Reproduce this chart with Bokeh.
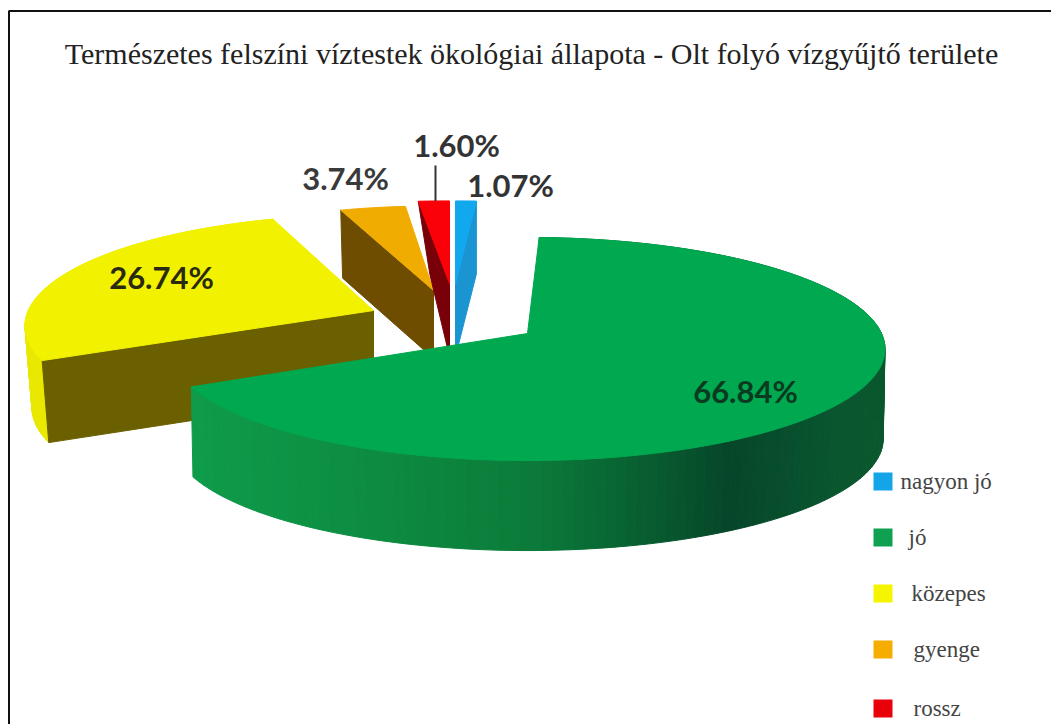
import math
from bokeh.plotting import figure
from bokeh.models import Range1d
from bokeh.core.properties import value
from bokeh.embed import file_html
from bokeh.resources import INLINE

# ---- data ----
categories = ["nagyon jó", "jó", "közepes", "gyenge", "rossz"]
shares = [1.07, 66.84, 26.74, 3.74, 1.60]
share_labels = ["1.07%", "66.84%", "26.74%", "3.74%", "1.60%"]
title = "Természetes felszíni víztestek ökológiai állapota - Olt folyó vízgyűjtő területe"

# ---- colours ----
top_colors = ["#12a8ee", "#00a84f", "#f2f200", "#f0ac00", "#fa0008"]
cut_colors = ["#1b95d2", "#0f9c4b", "#6b6000", "#6e4c00", "#780008"]
wall_colors = ["#1b95d2", None, "#e8e800", "#6e4c00", "#780008"]
legend_colors = ["#14a5e8", "#0fa050", "#f5f500", "#f5ad00", "#e8000a"]
label_colors = ["#333333", "#0a3a20", "#2a2a10", "#3a3a3a", "#333333"]
green_wall_stops = [(190, (15, 156, 75)), (400, (13, 138, 64)), (540, (12, 122, 58)),
                    (730, (6, 71, 42)), (830, (10, 86, 48)), (890, (10, 88, 46))]

# ---- layout (pixel space of the page) ----
RX, RY, K = 354.0, 109.4, 0.139
apex_x = [455, 527, 373, 433, 449]
apex_y = [283, 333, 310, 290, 283]
x_scale = [1.0, 1.0, 0.975, 0.9, 1.0]
y_scale = [0.86, 1.0, 1.0, 0.88, 0.86]
rotation = [0.0, -1.7, 0.0, 0.0, 0.0]
depth = [73, 90, 82, 68, 73]
shrink = [1.0, 0.995, 0.98, 0.98, 0.63]
label_x = [510, 745, 161, 345, 456]
label_y = [184, 390, 276, 177, 144]
legend_y = [481, 537, 593, 649, 708]
legend_text_x = [900, 908, 911, 913, 913]

W, H = 1051, 724
p = figure(width=W, height=H, output_backend="svg", toolbar_location=None,
           x_range=Range1d(0, W), y_range=Range1d(H, 0),
           min_border=0, outline_line_color=None, background_fill_color="white")
p.axis.visible = False
p.grid.visible = False


def project(i, angle):
    a = math.radians(angle + rotation[i])
    u, v = math.sin(a), -math.cos(a)
    s = 1.0 / (1.0 - K * v)
    return apex_x[i] + RX * u * s * x_scale[i], apex_y[i] + RY * v * s * y_scale[i]


def lower(i, pt):
    return apex_x[i] + (pt[0] - apex_x[i]) * shrink[i], pt[1] + depth[i]


def arc(i, a0, a1):
    n = max(2, int((a1 - a0) / 1.5))
    return [project(i, a0 + (a1 - a0) * j / n) for j in range(n + 1)]


def poly(points, color):
    p.patch([q[0] for q in points], [q[1] for q in points],
            fill_color=color, line_color=color, line_width=1)


def green_shade(x):
    st = green_wall_stops
    if x <= st[0][0]:
        return st[0][1]
    for (x0, c0), (x1, c1) in zip(st, st[1:]):
        if x <= x1:
            f = (x - x0) / (x1 - x0)
            return tuple(int(c0[k] + (c1[k] - c0[k]) * f) for k in range(3))
    return st[-1][1]


total = sum(shares)
starts, ends, acc = [], [], 0.0
for s_ in shares:
    starts.append(acc / total * 360)
    acc += s_
    ends.append(acc / total * 360)

apex = lambda i: (apex_x[i], apex_y[i])

# yellow
i = 2
a = arc(i, starts[i], ends[i])
for q0, q1 in zip(a, a[1:]):
    poly([q0, q1, lower(i, q1), lower(i, q0)], wall_colors[i])
c = project(i, starts[i])
poly([apex(i), c, lower(i, c), lower(i, apex(i))], cut_colors[i])
poly([apex(i)] + a, top_colors[i])

# orange
i = 3
a = arc(i, starts[i], ends[i])
c = project(i, starts[i])
poly([apex(i), c, lower(i, c), lower(i, apex(i))], cut_colors[i])
poly([apex(i)] + a, top_colors[i])

# red
i = 4
a = arc(i, starts[i], ends[i])
c = project(i, starts[i])
poly([apex(i), c, lower(i, c), lower(i, apex(i))], cut_colors[i])
poly([apex(i)] + a, top_colors[i])

# blue
i = 0
a = arc(i, starts[i], ends[i])
c = project(i, ends[i])
poly([apex(i), c, lower(i, c), lower(i, apex(i))], cut_colors[i])
poly([apex(i)] + a, top_colors[i])

# green: wall strips shaded by position, then the top face
i = 1
a = arc(i, starts[i], ends[i])
for q0, q1 in zip(a, a[1:]):
    r, g, b = green_shade((q0[0] + q1[0]) / 2)
    col = "#%02x%02x%02x" % (r, g, b)
    poly([q0, q1, lower(i, q1), lower(i, q0)], col)
poly([apex(i)] + a, top_colors[i])

# leader line of the 1.60% label
p.line([label_x[4] - 21] * 2, [label_y[4] + 21, project(4, ends[4])[1]],
       line_color="#333333", line_width=2)

# picture frame
p.line([8.5, 8.5, W], [H, 10.5, 10.5], line_color="#111111", line_width=2)

p.text(label_x, label_y, text=share_labels, text_font=value("Lato"),
       text_font_style="bold", text_font_size="31px", text_color=label_colors,
       text_align="center", text_baseline="middle")

p.text([531], [53], text=[title], text_font=value("Liberation Serif"),
       text_font_size="30px", text_color="#222222",
       text_align="center", text_baseline="middle")

p.quad(left=[873] * 5, right=[892] * 5,
       top=[y - 9 for y in legend_y], bottom=[y + 9 for y in legend_y],
       fill_color=legend_colors, line_color=None)
p.text(legend_text_x, legend_y, text=categories, text_font=value("Liberation Serif"),
       text_font_size="23px", text_color="#444444",
       text_align="left", text_baseline="middle")

open("out.html", "w").write(file_html(p, INLINE))
